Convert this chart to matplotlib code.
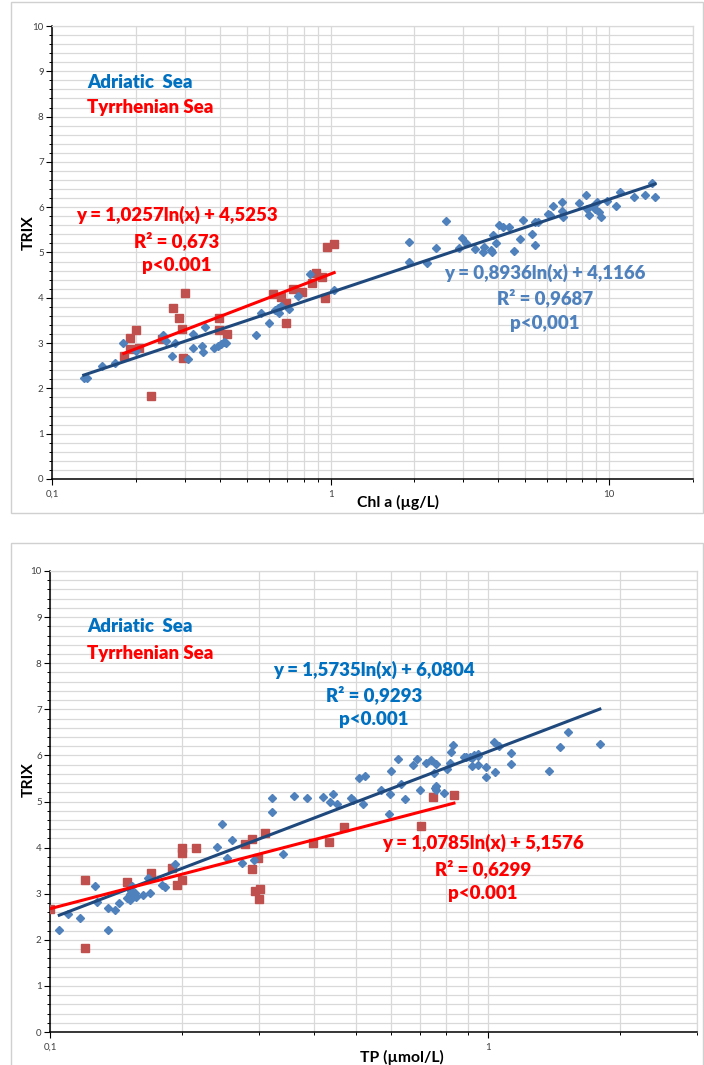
import numpy as np
import matplotlib
matplotlib.use("Agg")
import matplotlib.pyplot as plt
from matplotlib.ticker import LogLocator, FuncFormatter, NullFormatter, MultipleLocator
from matplotlib.patches import Rectangle

# ---------------- data ----------------
chl_adr_x = [0.130, 0.134, 0.151, 0.169, 0.180, 0.201, 0.250, 0.257, 0.270, 0.277,
             0.308, 0.321, 0.322, 0.345, 0.349, 0.353, 0.381, 0.394, 0.405, 0.414,
             0.420, 0.541, 0.563, 0.600, 0.633, 0.647, 0.653, 0.662, 0.707, 0.767,
             0.841, 1.03,
             1.91, 1.92, 2.22, 2.39, 2.60, 2.90, 2.96, 3.06, 3.31, 3.52,
             3.56, 3.77, 3.80, 3.82, 3.93, 4.01, 4.15, 4.38, 4.54, 4.80,
             4.89, 5.27, 5.42, 5.43, 5.54, 6.01, 6.15, 6.27, 6.77, 6.77,
             6.84, 7.80, 8.29, 8.36, 8.48, 8.77, 8.91, 9.08, 9.16, 9.38,
             9.86, 10.6, 10.9, 12.3, 13.5, 14.3, 14.6]
chl_adr_y = [2.24, 2.24, 2.50, 2.57, 3.00, 2.83, 3.18, 3.05, 2.72, 3.01,
             2.66, 3.19, 2.90, 2.94, 2.81, 3.36, 2.90, 2.94, 2.99, 3.03,
             3.01, 3.18, 3.66, 3.45, 3.74, 3.77, 3.67, 3.82, 3.76, 4.04,
             4.53, 4.18,
             4.79, 5.24, 4.76, 5.09, 5.70, 5.09, 5.33, 5.20, 5.07, 5.00,
             5.13, 5.05, 5.00, 5.38, 5.20, 5.60, 5.56, 5.56, 5.03, 5.30,
             5.72, 5.41, 5.16, 5.67, 5.67, 5.84, 5.83, 6.03, 5.92, 6.11,
             5.79, 6.09, 6.28, 5.96, 5.83, 6.03, 5.95, 6.12, 5.90, 5.79,
             6.14, 6.03, 6.33, 6.22, 6.27, 6.54, 6.23]

chl_tyr_x = [0.181, 0.190, 0.190, 0.200, 0.205, 0.226, 0.249, 0.271, 0.286, 0.294,
             0.295, 0.300, 0.398, 0.398, 0.425, 0.621, 0.665, 0.690, 0.690, 0.733,
             0.787, 0.857, 0.885, 0.933, 0.954, 0.968, 1.03]
chl_tyr_y = [2.72, 3.12, 2.86, 3.30, 2.89, 1.84, 3.08, 3.78, 3.56, 3.32,
             2.68, 4.10, 3.55, 3.28, 3.19, 4.09, 4.02, 3.45, 3.88, 4.20,
             4.13, 4.33, 4.54, 4.46, 3.99, 5.12, 5.19]

tp_adr_x = [0.105, 0.110, 0.117, 0.127, 0.128, 0.136, 0.136, 0.141, 0.144, 0.150,
            0.152, 0.152, 0.152, 0.153, 0.154, 0.153, 0.156, 0.157, 0.163, 0.167,
            0.169, 0.180, 0.183, 0.193, 0.241, 0.247, 0.253, 0.261, 0.274, 0.293,
            0.321, 0.322, 0.340, 0.360, 0.386, 0.419, 0.435, 0.442, 0.451, 0.487,
            0.491, 0.508, 0.525, 0.519, 0.570, 0.595, 0.597, 0.600, 0.623, 0.632,
            0.648, 0.673, 0.689, 0.700, 0.72, 0.74, 0.751, 0.760, 0.755, 0.762,
            0.760, 0.793, 0.808, 0.821, 0.824, 0.832, 0.88, 0.89, 0.91, 0.92,
            0.93, 0.95, 0.95, 0.92, 0.95, 0.99, 0.99, 1.03, 1.04, 1.06,
            1.13, 1.13, 1.38, 1.46, 1.52, 1.80]
tp_adr_y = [2.22, 2.56, 2.48, 3.17, 2.83, 2.69, 2.22, 2.65, 2.79, 2.90,
            2.99, 2.96, 2.86, 2.92, 3.17, 3.06, 3.01, 2.92, 2.98, 3.34,
            3.01, 3.19, 3.15, 3.64, 4.01, 4.52, 3.77, 4.16, 3.66, 3.74,
            4.78, 5.07, 3.87, 5.12, 5.07, 5.10, 4.99, 5.16, 4.95, 5.08,
            5.03, 5.52, 5.55, 4.95, 5.26, 4.73, 5.16, 5.67, 5.92, 5.37,
            5.05, 5.79, 5.92, 5.26, 5.84, 5.89, 5.62, 5.81, 5.30, 5.34,
            5.26, 5.19, 5.70, 5.84, 6.07, 6.23, 5.97, 5.96, 5.96, 5.95,
            6.00, 6.04, 5.98, 5.77, 5.79, 5.75, 5.54, 6.30, 5.63, 6.20,
            6.05, 5.81, 5.66, 6.19, 6.50, 6.25]

tp_tyr_x = [0.100, 0.120, 0.120, 0.150, 0.170, 0.190, 0.195, 0.200, 0.200, 0.200,
            0.215, 0.279, 0.289, 0.289, 0.299, 0.294, 0.301, 0.300, 0.310, 0.399,
            0.434, 0.469, 0.702, 0.750, 0.836]
tp_tyr_y = [2.66, 3.30, 1.83, 3.26, 3.44, 3.56, 3.18, 3.99, 3.89, 3.29,
            3.99, 4.07, 4.19, 3.53, 3.77, 3.05, 3.10, 2.88, 4.32, 4.09,
            4.12, 4.45, 4.47, 5.09, 5.14]

# trendline coefficients (y = a ln(x) + b)
chl_adr_fit = (0.8936, 4.1166)
chl_tyr_fit = (1.0257, 4.5253)
tp_adr_fit = (1.5735, 6.0804)
tp_tyr_fit = (1.0785, 5.1576)

chl_adr_text = ["y = 0,8936ln(x) + 4,1166", "R² = 0,9687", "p<0,001"]
chl_tyr_text = ["y = 1,0257ln(x) + 4,5253", "R² = 0,673", "p<0.001"]
tp_adr_text = ["y = 1,5735ln(x) + 6,0804", "R² = 0,9293", "p<0.001"]
tp_tyr_text = ["y = 1,0785ln(x) + 5,1576", "R² = 0,6299", "p<0.001"]

legend_labels = ["Adriatic  Sea", "Tyrrhenian Sea"]
xlabels = ["Chl a (µg/L)", "TP (µmol/L)"]
ylabel = "TRIX"

# ---------------- style ----------------
W, H = 704, 1065
FONT = ["Lato", "DejaVu Sans"]
plt.rcParams['font.family'] = FONT

C_BLUE_TXT = "#0070C0"
C_BLUE_TXT2 = "#4F81BD"
C_RED = "#FF0000"
C_DIAM = "#4F81BD"
C_SQ = "#C0504D"
C_TREND = "#1F497D"
GRID = "#D9D9D9"

fig = plt.figure(figsize=(W / 100, H / 100), dpi=100)


def fx(px):
    return px / W


def fy(py):
    return 1 - py / H


# panel frames
for (x0, y0, x1, y1) in [(11, 2, 703, 513), (11, 543, 703, 1068)]:
    fig.patches.append(Rectangle((fx(x0), fy(y1)), fx(x1) - fx(x0), fy(y0) - fy(y1),
                                 transform=fig.transFigure, fill=False,
                                 edgecolor="#D0D0D0", lw=1.0))


def fmt_tick(v, pos):
    if v < 1:
        return "0,1"
    return "%d" % round(v)


def setup_axes(rect, xlim):
    ax = fig.add_axes(rect)
    ax.set_xscale('log')
    ax.set_xlim(*xlim)
    ax.set_ylim(0, 10)
    ax.xaxis.set_major_locator(LogLocator(base=10))
    ax.xaxis.set_minor_locator(LogLocator(base=10, subs=np.arange(2, 10)))
    ax.xaxis.set_major_formatter(FuncFormatter(fmt_tick))
    ax.xaxis.set_minor_formatter(NullFormatter())
    ax.yaxis.set_major_locator(MultipleLocator(1))
    ax.yaxis.set_minor_locator(MultipleLocator(0.2))
    ax.grid(True, which='both', color=GRID, lw=0.9)
    ax.set_axisbelow(True)
    for s in ['top', 'right']:
        ax.spines[s].set_color(GRID)
        ax.spines[s].set_linewidth(0.9)
    for s in ['left', 'bottom']:
        ax.spines[s].set_color("black")
        ax.spines[s].set_linewidth(1.1)
    ax.tick_params(which='major', length=4, width=0.8, color="black",
                   labelsize=7, labelcolor="#404040", pad=2)
    ax.tick_params(which='minor', length=2.5, width=0.7, color="black")
    ax.tick_params(axis='x', which='major', pad=4)
    return ax


def draw(ax, ax_x, ax_y, ty_x, ty_y, fit_a, fit_t):
    ax.plot(ty_x, ty_y, linestyle='none', marker='s', ms=5.6, color=C_SQ,
            mec=C_SQ, zorder=3)
    ax.plot(ax_x, ax_y, linestyle='none', marker='D', ms=3.8, color=C_DIAM,
            mec=C_DIAM, zorder=4)
    xa = np.geomspace(min(ax_x), max(ax_x), 100)
    ax.plot(xa, fit_a[0] * np.log(xa) + fit_a[1], color=C_TREND, lw=2.2, zorder=5)
    xt = np.geomspace(min(ty_x), max(ty_x), 100)
    ax.plot(xt, fit_t[0] * np.log(xt) + fit_t[1], color=C_RED, lw=2.2, zorder=5)


# panel 1
ax1 = setup_axes([fx(52), fy(479), fx(693) - fx(52), fy(26) - fy(479)], (0.1, 20))
draw(ax1, chl_adr_x, chl_adr_y, chl_tyr_x, chl_tyr_y, chl_adr_fit, chl_tyr_fit)

# panel 2
ax2 = setup_axes([fx(50), fy(1032), fx(697) - fx(50), fy(571) - fy(1032)], (0.1, 3))
draw(ax2, tp_adr_x, tp_adr_y, tp_tyr_x, tp_tyr_y, tp_adr_fit, tp_tyr_fit)

FS = 13.4


def txt(px, py, s, color, ha='center', size=FS):
    fig.text(fx(px), fy(py), s, color=color, ha=ha, va='center',
             fontsize=size, fontweight='heavy')


# legends
for off in (0, 545):
    txt(87, 83 + off - (2 if off else 0), legend_labels[0], C_BLUE_TXT, ha='left')
    txt(87, 108 + off, legend_labels[1], C_RED, ha='left')

# equations panel 1
for i, s in enumerate(chl_tyr_text):
    txt(177, 215 + 25.5 * i, s, C_RED)
for i, s in enumerate(chl_adr_text):
    txt(545, 273 + 25 * i, s, C_BLUE_TXT2)
# equations panel 2
for i, s in enumerate(tp_adr_text):
    txt(374, 670 + 25 * i, s, C_BLUE_TXT)
for i, s in enumerate(tp_tyr_text):
    txt(483, 843 + 25.5 * i, s, C_RED)

# axis labels
fig.text(fx(398), fy(502), xlabels[0], ha='center', va='center', fontsize=11.3,
         fontweight='bold', color="black")
fig.text(fx(402), fy(1057), xlabels[1], ha='center', va='center', fontsize=11.3,
         fontweight='bold', color="black")
fig.text(fx(29), fy(233), ylabel, ha='center', va='center', fontsize=11.3,
         fontweight='bold', rotation=90, color="black")
fig.text(fx(29), fy(780), ylabel, ha='center', va='center', fontsize=11.3,
         fontweight='bold', rotation=90, color="black")

fig.savefig("out.png", dpi=100)
